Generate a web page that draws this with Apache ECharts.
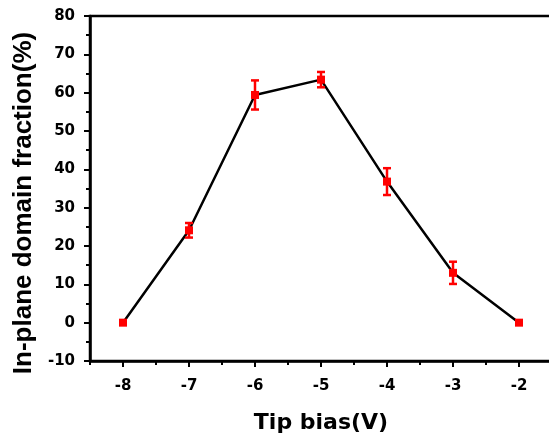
<!DOCTYPE html>
<html><head><meta charset="utf-8">
<script src="https://cdn.jsdelivr.net/npm/echarts@6/dist/echarts.min.js"></script>
<style>html,body{margin:0;padding:0;background:#fff}#c{width:549px;height:441px}</style>
</head><body><div id="c"></div>
<script>
var biasV = [-8, -7, -6, -5, -4, -3, -2];
var fraction = [0, 24.1, 59.4, 63.4, 36.8, 13.0, 0];
var errorBar = [0, 1.9, 3.8, 2.0, 3.5, 2.9, 0];
var xMajorTicks = [-8, -7, -6, -5, -4, -3, -2];
var xMinorTicks = [-8.5, -7.5, -6.5, -5.5, -4.5, -3.5, -2.5];

var pts = biasV.map(function (x, i) { return [x, fraction[i]]; });
var errs = biasV.map(function (x, i) { return [x, fraction[i] - errorBar[i], fraction[i] + errorBar[i]]; })
  .filter(function (d, i) { return errorBar[i] > 0; });

var wide = 'DejaVu Sans, Verdana, sans-serif';
var arial = 'Liberation Sans, Arial, sans-serif';
var chart = echarts.init(document.getElementById('c'), null, {renderer: 'canvas'});
chart.setOption({
  animation: false,
  grid: {left: 90, top: 16, bottom: 80, width: 462, outerBoundsMode: 'none', containLabel: false,
         show: true, borderColor: '#000', borderWidth: 2.5, backgroundColor: 'transparent'},
  xAxis: [{
    type: 'value', min: -8.5, max: -1.5,
    name: 'Tip bias(V)', nameLocation: 'middle', nameGap: 51,
    nameTextStyle: {fontFamily: wide, fontWeight: 'bold', fontSize: 22, color: '#000'},
    axisLine: {show: true, onZero: false, lineStyle: {color: '#000', width: 2.5}},
    axisTick: {show: true, customValues: xMajorTicks, length: 6, lineStyle: {color: '#000', width: 2}},
    axisLabel: {customValues: xMajorTicks, margin: 18, fontFamily: wide, fontWeight: 'bold', fontSize: 15, color: '#000'},
    splitLine: {show: false}
  }, {
    type: 'value', min: -8.5, max: -1.5, position: 'bottom',
    axisLine: {show: false, onZero: false},
    axisTick: {show: true, customValues: xMinorTicks, length: 4, lineStyle: {color: '#000', width: 2}},
    axisLabel: {show: false},
    splitLine: {show: false}
  }],
  yAxis: {
    type: 'value', min: -10, max: 80, interval: 10,
    name: 'In-plane domain fraction(%)', nameLocation: 'middle', nameGap: 53,
    nameTextStyle: {fontFamily: arial, fontWeight: 'bold', fontSize: 26, color: '#000', padding: [0, 29, 0, 0]},
    axisLine: {show: true, onZero: false, lineStyle: {color: '#000', width: 2.5}},
    axisTick: {show: true, length: 6, lineStyle: {color: '#000', width: 2}},
    minorTick: {show: true, splitNumber: 2, length: 4, lineStyle: {color: '#000', width: 2}},
    axisLabel: {margin: 15, fontFamily: wide, fontWeight: 'bold', fontSize: 15, color: '#000'},
    splitLine: {show: false}
  },
  series: [{
    type: 'line', data: pts, symbol: 'rect', symbolSize: 8,
    lineStyle: {color: '#000', width: 2.5},
    itemStyle: {color: '#ff0000'}, z: 3
  }, {
    type: 'custom', data: errs, z: 4,
    renderItem: function (params, api) {
      var x = api.value(0);
      var lo = api.coord([x, api.value(1)]);
      var hi = api.coord([x, api.value(2)]);
      var w = 4;
      var st = {stroke: '#ff0000', lineWidth: 2.5};
      return {type: 'group', children: [
        {type: 'line', shape: {x1: lo[0], y1: lo[1], x2: hi[0], y2: hi[1]}, style: st},
        {type: 'line', shape: {x1: lo[0] - w, y1: lo[1], x2: lo[0] + w, y2: lo[1]}, style: st},
        {type: 'line', shape: {x1: hi[0] - w, y1: hi[1], x2: hi[0] + w, y2: hi[1]}, style: st}
      ]};
    }
  }]
});
</script></body></html>
